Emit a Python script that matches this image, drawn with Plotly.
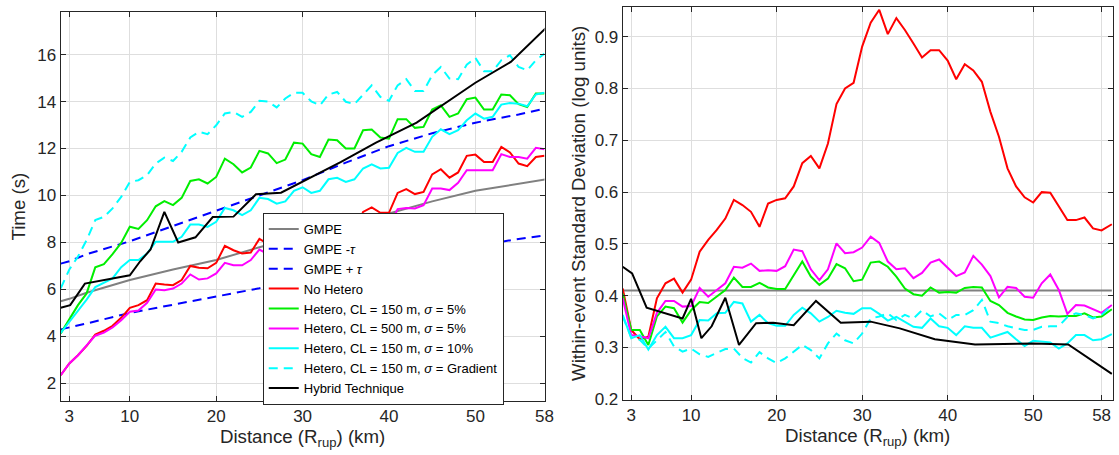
import plotly.graph_objects as go

# ---------------- data ----------------
km = list(range(2, 59))                     # 2 ... 58 km (left panel)
km_r = list(range(2, 59)) + [59.2]          # right panel extends to 59.2 km

gmpe_x = [2, 3, 5, 10, 15, 20, 25, 30, 35, 40, 45, 50, 55, 59.2]
gmpe = [5.5, 5.6, 5.86, 6.4, 6.85, 7.25, 7.8, 8.3, 8.8, 9.23, 9.75, 10.2, 10.5, 10.75]
gmpe_minus = [4.3, 4.38, 4.55, 5.0, 5.35, 5.7, 6.05, 6.45, 6.8, 7.2, 7.55, 7.85, 8.15, 8.36]
gmpe_plus = [7.1, 7.2, 7.5, 8.05, 8.7, 9.35, 10.0, 10.65, 11.4, 12.1, 12.65, 13.1, 13.45, 13.8]
gmpe_sigma = [0.41, 0.41, 0.41, 0.41, 0.41, 0.41, 0.41, 0.41, 0.41, 0.41, 0.41, 0.41, 0.41, 0.41]

no_hetero_t = [2.35, 2.85, 3.2, 3.6, 4.08, 4.24, 4.45, 4.79, 5.22, 5.33, 5.54, 6.25, 6.21, 6.18, 6.4,
               7.0, 6.92, 6.9, 7.13, 7.86, 7.67, 7.53, 7.57, 8.15, 7.93, 7.78, 7.8, 8.48, 8.42, 8.14,
               8.13, 8.83, 8.66, 8.31, 8.38, 9.3, 9.49, 9.26, 9.26, 10.11, 10.27, 10.06, 10.15, 10.9,
               11.12, 10.76, 10.98, 11.69, 11.74, 11.43, 11.43, 12.07, 11.83, 11.36, 11.25, 11.64, 11.69]
cl150_s5_t = [4.13, 4.76, 5.33, 5.83, 6.94, 7.08, 7.5, 7.98, 8.67, 8.58, 8.95, 9.54, 9.76, 9.59, 9.9,
              10.62, 10.69, 10.51, 10.79, 11.57, 11.33, 10.98, 11.19, 11.9, 11.79, 11.38, 11.53, 12.25,
              12.21, 11.76, 11.64, 12.38, 12.35, 12.0, 12.0, 12.78, 12.81, 12.47, 12.42, 13.25, 13.25,
              12.88, 12.92, 13.66, 13.84, 13.35, 13.49, 14.1, 14.17, 13.66, 13.66, 14.3, 14.27, 13.89,
              13.77, 14.34, 14.34]
cl500_s5_t = [2.35, 2.85, 3.2, 3.6, 4.03, 4.16, 4.38, 4.69, 5.05, 5.1, 5.43, 6.0, 5.97, 6.04, 6.25,
              6.64, 6.42, 6.47, 6.68, 7.13, 7.03, 7.03, 7.25, 7.7, 7.5, 7.39, 7.42, 7.88, 7.74, 7.55,
              7.6, 8.13, 8.21, 8.2, 8.3, 8.78, 8.83, 8.69, 8.69, 9.42, 9.47, 9.45, 9.59, 10.3, 10.3,
              10.23, 10.54, 11.08, 11.08, 11.05, 11.08, 11.76, 11.64, 11.64, 11.57, 12.03, 11.97]
cl150_s10_t = [4.15, 4.62, 5.1, 5.57, 6.1, 6.28, 6.47, 6.95, 7.25, 7.25, 7.53, 8.03, 8.03, 8.03, 8.24,
               8.76, 8.76, 8.66, 8.88, 9.47, 9.37, 9.16, 9.37, 9.9, 9.85, 9.65, 9.75, 10.2, 10.35,
               10.11, 10.2, 10.69, 10.75, 10.58, 10.69, 11.15, 11.33, 11.15, 11.18, 11.81, 12.03,
               11.86, 11.86, 12.5, 12.82, 12.61, 12.78, 13.2, 13.49, 13.27, 13.35, 13.87, 13.94,
               13.91, 13.8, 14.3, 14.38]
cl150_grad_t = [6.05, 6.85, 7.4, 8.1, 8.95, 9.09, 9.45, 9.94, 10.58, 10.65, 10.86, 11.36, 11.61, 11.47,
                11.86, 12.47, 12.71, 12.61, 12.99, 13.49, 13.56, 13.35, 13.56, 14.03, 14.0, 13.75,
                14.13, 14.37, 14.37, 14.01, 13.84, 14.3, 14.41, 13.99, 13.89, 14.3, 14.69, 14.2,
                14.03, 14.69, 14.95, 14.45, 14.45, 15.12, 15.47, 14.98, 14.95, 15.57, 15.86, 15.29,
                15.29, 15.76, 15.97, 15.47, 15.33, 15.76, 16.04]

hybrid_x = [2.0, 3.1, 4.8, 9.0, 10.0, 11.2, 12.4, 14.0, 15.6, 17.6, 19.6, 22.0, 24.6, 27.5, 31.0,
            34.4, 38.5, 43.2, 50.0, 54.1, 59.2]
hybrid_t = [5.22, 5.33, 6.25, 6.55, 6.6, 7.2, 7.7, 9.3, 8.0, 8.22, 9.08, 9.1, 10.05, 10.12, 10.78,
            11.42, 12.25, 13.1, 14.8, 15.69, 17.5]
hybrid_sd = [0.456, 0.443, 0.377, 0.356, 0.394, 0.318, 0.341, 0.396, 0.305, 0.347, 0.348, 0.343,
             0.39, 0.348, 0.35, 0.337, 0.316, 0.306, 0.308, 0.306, 0.249]

no_hetero_sd = [0.414, 0.334, 0.316, 0.321, 0.395, 0.424, 0.433, 0.406, 0.431, 0.485, 0.508, 0.527,
                0.549, 0.585, 0.575, 0.562, 0.533, 0.578, 0.585, 0.588, 0.611, 0.656, 0.67, 0.646,
                0.694, 0.77, 0.8, 0.811, 0.881, 0.927, 0.952, 0.905, 0.936, 0.913, 0.887, 0.86,
                0.874, 0.874, 0.854, 0.818, 0.847, 0.835, 0.813, 0.755, 0.707, 0.646, 0.611, 0.59,
                0.58, 0.6, 0.599, 0.572, 0.546, 0.546, 0.551, 0.53, 0.526, 0.538]
cl150_s5_sd = [0.404, 0.334, 0.334, 0.305, 0.36, 0.379, 0.376, 0.348, 0.372, 0.388, 0.386, 0.398,
               0.411, 0.435, 0.417, 0.417, 0.425, 0.416, 0.413, 0.413, 0.44, 0.466, 0.437, 0.421,
               0.433, 0.461, 0.453, 0.428, 0.431,
               0.464, 0.466, 0.456, 0.437, 0.414, 0.403, 0.4, 0.416, 0.406, 0.407, 0.406, 0.415,
               0.417, 0.416, 0.39, 0.382, 0.367, 0.36, 0.354, 0.353, 0.358, 0.361, 0.36, 0.361,
               0.361, 0.366, 0.358, 0.36, 0.374]
cl500_s5_sd = [0.395, 0.324, 0.322, 0.318, 0.367, 0.39, 0.39, 0.379, 0.38, 0.415, 0.398, 0.411,
               0.424, 0.456, 0.454, 0.462, 0.448, 0.449, 0.448, 0.457, 0.489, 0.486, 0.451, 0.43,
               0.451, 0.501, 0.482, 0.484, 0.493,
               0.514, 0.502, 0.466, 0.451, 0.453, 0.434, 0.444, 0.464, 0.47, 0.453, 0.438, 0.445,
               0.477, 0.46, 0.438, 0.397, 0.417, 0.415, 0.398, 0.396, 0.424, 0.441, 0.411, 0.365,
               0.382, 0.381, 0.374, 0.367, 0.382]
cl150_s10_sd = [0.363, 0.318, 0.324, 0.296, 0.324, 0.34, 0.318, 0.318, 0.324, 0.353, 0.352, 0.366,
                0.367, 0.388, 0.385, 0.35, 0.363, 0.347, 0.342, 0.342, 0.363, 0.377, 0.366, 0.35,
                0.359, 0.371, 0.367, 0.365, 0.376,
                0.376, 0.365, 0.352, 0.359, 0.35, 0.34, 0.338, 0.356, 0.341, 0.338, 0.324, 0.341,
                0.338, 0.338, 0.319, 0.325, 0.33, 0.316, 0.303, 0.313, 0.311, 0.31, 0.298, 0.308,
                0.324, 0.324, 0.314, 0.316, 0.326]
cl150_grad_sd = [0.36, 0.32, 0.315, 0.298, 0.314, 0.33, 0.302, 0.292, 0.298, 0.287, 0.282, 0.289,
                 0.297, 0.298, 0.28, 0.271, 0.291, 0.279, 0.27, 0.279, 0.292, 0.305, 0.295, 0.279,
                 0.308, 0.327, 0.314, 0.308, 0.327,
                 0.356, 0.36, 0.366, 0.353, 0.363, 0.356, 0.372, 0.36, 0.366, 0.353, 0.363, 0.363,
                 0.372, 0.392, 0.35, 0.347, 0.341, 0.337, 0.334, 0.334, 0.34, 0.341, 0.341, 0.359,
                 0.366, 0.363, 0.356, 0.363, 0.382]

x_ticks = [3, 10, 20, 30, 40, 50, 58]
t_ticks = [2, 4, 6, 8, 10, 12, 14, 16]
sd_ticks = [0.2, 0.3, 0.4, 0.5, 0.6, 0.7, 0.8, 0.9]
sd_tick_text = ["0.2", "0.3", "0.4", "0.5", "0.6", "0.7", "0.8", "0.9"]

# ---------------- styles ----------------
FONT = "Liberation Sans, Arial, Helvetica, sans-serif"
DASH = "9px,6px"
GRAY, BLUE, RED, GREEN, MAG, CYAN = "#808080", "#0000ff", "#ff0000", "#00ee00", "#ff00ff", "#00ffff"
LW = 2

fig = go.Figure()


def add(x, y, name, color, dash="solid", axis=1, show=True):
    fig.add_trace(go.Scatter(
        x=x, y=y, name=name, mode="lines",
        line=dict(color=color, width=LW, dash=dash),
        xaxis="x" if axis == 1 else "x2", yaxis="y" if axis == 1 else "y2",
        showlegend=show, hoverinfo="x+y"))


# left panel
add(gmpe_x, gmpe, "GMPE", GRAY)
add(gmpe_x, gmpe_minus, "GMPE -<i>τ</i>", BLUE, DASH)
add(gmpe_x, gmpe_plus, "GMPE + <i>τ</i>", BLUE, DASH)
add(km, no_hetero_t, "No Hetero", RED)
add(km, cl150_s5_t, "Hetero, CL = 150 m, <i>σ</i> = 5%", GREEN)
add(km, cl500_s5_t, "Hetero, CL = 500 m, <i>σ</i> = 5%", MAG)
add(km, cl150_s10_t, "Hetero, CL = 150 m, <i>σ</i> = 10%", CYAN)
add(km, cl150_grad_t, "Hetero, CL = 150 m, <i>σ</i> = Gradient", CYAN, DASH)
add(hybrid_x, hybrid_t, "Hybrid Technique", "#000000")

# right panel
add(gmpe_x, gmpe_sigma, "GMPE", GRAY, axis=2, show=False)
add(km_r, no_hetero_sd, "No Hetero", RED, axis=2, show=False)
add(km_r, cl150_s5_sd, "150/5", GREEN, axis=2, show=False)
add(km_r, cl500_s5_sd, "500/5", MAG, axis=2, show=False)
add(km_r, cl150_s10_sd, "150/10", CYAN, axis=2, show=False)
add(km_r, cl150_grad_sd, "150/grad", CYAN, DASH, axis=2, show=False)
add(hybrid_x, hybrid_sd, "Hybrid", "#000000", axis=2, show=False)

AX = "#262626"
common = dict(showline=True, linecolor=AX, linewidth=1, mirror="ticks", ticks="inside",
              ticklen=5, tickcolor=AX, showgrid=True, gridcolor="#dedede", gridwidth=1,
              zeroline=False, tickfont=dict(family=FONT, size=17, color=AX), automargin=False)
title_font = dict(family=FONT, size=18.7, color=AX)

fig.update_layout(
    width=1119, height=455, margin=dict(l=0, r=0, t=0, b=0),
    paper_bgcolor="white", plot_bgcolor="white",
    font=dict(family=FONT, color=AX),
    xaxis=dict(domain=[0.05424, 0.48660], range=[2, 58], tickvals=x_ticks,
               title=dict(text="Distance (R<sub>rup</sub>) (km)", font=title_font, standoff=2),
               anchor="y", **common),
    yaxis=dict(domain=[0.11868, 0.97297], range=[1.25, 17.8], tickvals=t_ticks,
               title=dict(text="Time (s)", font=title_font, standoff=6),
               anchor="x", **common),
    xaxis2=dict(domain=[0.55648, 0.99437], range=[2, 59.3], tickvals=x_ticks,
                title=dict(text="Distance (R<sub>rup</sub>) (km)", font=title_font, standoff=2),
                anchor="y2", **common),
    yaxis2=dict(domain=[0.12088, 0.98527], range=[0.1987, 0.958], tickvals=sd_ticks,
                ticktext=sd_tick_text,
                title=dict(text="Within-event Standard Deviation (log units)", font=title_font,
                           standoff=4),
                anchor="x2", **common),
    legend=dict(x=0.2348, y=0.11, xanchor="left", yanchor="bottom", bgcolor="white",
                bordercolor=AX, borderwidth=1, tracegroupgap=0, itemwidth=30,
                font=dict(family=FONT, size=13, color="#000000")),
)

fig.write_html("out.html")
